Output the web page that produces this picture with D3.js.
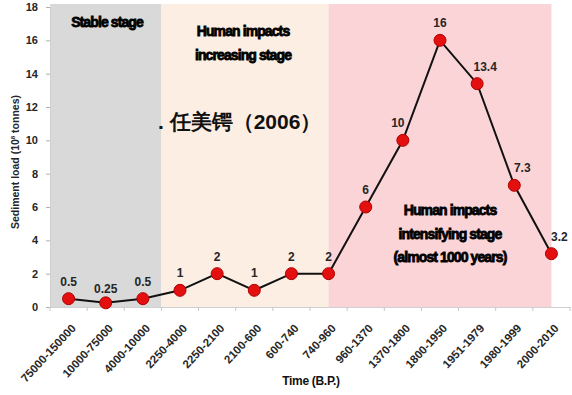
<!DOCTYPE html>
<html>
<head>
<meta charset="utf-8">
<script src="https://cdn.jsdelivr.net/npm/d3@7"></script>
<style>
  body { margin: 0; background: #fff; }
  svg text { font-family: "Liberation Sans Narrow", "Liberation Sans", Arial, sans-serif; }
</style>
</head>
<body>
<div id="chart"></div>
<script>
const periods = ["75000-150000", "10000-75000", "4000-10000", "2250-4000", "2250-2100", "2100-600",
  "600-740", "740-960", "960-1370", "1370-1800", "1800-1950", "1951-1979", "1980-1999", "2000-2010"];
const load = [0.5, 0.25, 0.5, 1, 2, 1, 2, 2, 6, 10, 16, 13.4, 7.3, 3.2];
const yTicks = [0, 2, 4, 6, 8, 10, 12, 14, 16, 18];
const stages = [
  { from: "75000-150000", to: "4000-10000", fill: "#d9d9d9", lines: ["Stable stage"] },
  { from: "2250-4000", to: "740-960", fill: "#fdeee4", lines: ["Human impacts", "increasing stage"] },
  { from: "740-960", to: "2000-2010", fill: "#fad4d7", lines: ["Human impacts", "intensifying stage", "(almost 1000 years)"] }
];

const W = 572, H = 395;
const MARGIN = { TOP: 7, BOTTOM: 88, LEFT: 50, RIGHT: 2 };
const w = W - MARGIN.LEFT - MARGIN.RIGHT;
const h = H - MARGIN.TOP - MARGIN.BOTTOM;
const TEXT_COLOR = "#262626";

const svg = d3.select("#chart").append("svg")
  .attr("width", W).attr("height", H)
  .append("g").attr("transform", `translate(${MARGIN.LEFT}, ${MARGIN.TOP})`);

const x = d3.scaleBand().domain(periods).range([0, w]);
const y = d3.scaleLinear().domain([0, 18]).range([h, 0]);
const cx = d => x(d) + x.bandwidth() / 2;

// stage backgrounds: first starts at axis, others start/end at category centres
const stageX0 = (s, i) => i === 0 ? 0 : (i === 1 ? x(s.from) : cx(s.from));
const stageX1 = (s, i) => i === 0 ? x(s.to) + x.bandwidth() : cx(s.to);
svg.selectAll("rect.stage").data(stages).join("rect")
  .attr("class", "stage")
  .attr("x", (s, i) => stageX0(s, i))
  .attr("width", (s, i) => stageX1(s, i) - stageX0(s, i))
  .attr("y", -3)
  .attr("height", h + 3)
  .attr("fill", s => s.fill);

// axes
const yAxis = svg.append("g").call(d3.axisLeft(y).tickValues(yTicks).tickSize(4).tickPadding(8));
yAxis.select(".domain").attr("stroke", "#d0d0d0");
yAxis.selectAll(".tick line").attr("stroke", "#b0b0b0");
yAxis.selectAll(".tick text").attr("fill", TEXT_COLOR).attr("font-size", 11).attr("font-weight", "bold")
  .attr("font-family", "'Open Sans', sans-serif");

const xAxis = svg.append("g").attr("transform", `translate(0, ${h})`)
  .call(d3.axisBottom(x).tickSize(0).tickPadding(0));
xAxis.select(".domain").attr("stroke", "#d0d0d0");
xAxis.selectAll(".tick line").remove();
// tick marks at category boundaries
svg.append("g").selectAll("line").data(periods.concat(["end"])).join("line")
  .attr("x1", (d, i) => i * x.bandwidth()).attr("x2", (d, i) => i * x.bandwidth())
  .attr("y1", h).attr("y2", h + 4).attr("stroke", "#c8c8c8");
xAxis.selectAll(".tick text")
  .attr("fill", TEXT_COLOR).attr("font-size", 11.5).attr("font-weight", "bold")
  .attr("text-anchor", "end")
  .attr("transform", "translate(5, 19) rotate(-47)")
  .attr("dy", "0.35em");

// axis titles
svg.append("text")
  .attr("transform", `translate(-31, ${h / 2 + 5}) rotate(-90)`)
  .attr("text-anchor", "middle").attr("font-size", 10.5).attr("font-weight", "bold")
  .attr("fill", TEXT_COLOR).attr("font-family", "'Open Sans', sans-serif")
  .html('Sediment load (10<tspan font-size="6" dy="-4">8</tspan><tspan dy="4"> tonnes)</tspan>');

svg.append("text")
  .attr("x", 261).attr("y", h + 78)
  .attr("text-anchor", "middle").attr("font-size", 12).attr("font-weight", "bold")
  .attr("letter-spacing", -0.3)
  .attr("fill", "#111").text("Time (B.P.)");

// stage titles
const stageTextY = [20, 29, 208];
const stageTextX = [57, 193, 400];
stages.forEach((s, i) => {
  svg.append("text")
    .attr("x", stageTextX[i]).attr("y", stageTextY[i])
    .attr("text-anchor", "middle").attr("font-size", 14).attr("font-weight", "bold")
    .attr("letter-spacing", -0.9).attr("fill", "#000")
    .style("paint-order", "stroke").attr("stroke", "#000").attr("stroke-width", 0.8)
    .selectAll("tspan").data(s.lines).join("tspan")
    .attr("x", stageTextX[i]).attr("dy", (d, j) => j === 0 ? 0 : 23.5)
    .text(d => d);
});

// citation
svg.append("text")
  .attr("x", 108).attr("y", 122)
  .attr("font-size", 21).attr("font-weight", "bold")
  .attr("font-family", "'Noto Sans CJK SC', sans-serif")
  .attr("fill", "#111")
  .text(". 任美锷（2006）");

// line and points
const data = periods.map((p, i) => ({ period: p, value: load[i], i }));
const peak = d3.maxIndex(load);
svg.append("path").datum(data)
  .attr("fill", "none").attr("stroke", "#111").attr("stroke-width", 2)
  .attr("d", d3.line().x(d => cx(d.period)).y(d => y(d.value)));

svg.selectAll("circle").data(data).join("circle")
  .attr("cx", d => cx(d.period)).attr("cy", d => y(d.value))
  .attr("r", 6).attr("fill", "#e41010").attr("stroke", "#b00000").attr("stroke-width", 1);

const labelDx = d => d.i > peak ? 8 : (d.i < peak && d.i > 8 ? -5 : 0);
svg.selectAll("text.val").data(data).join("text")
  .attr("class", "val")
  .attr("x", d => cx(d.period) + labelDx(d))
  .attr("y", d => y(d.value) - (d.value < 0.5 ? 10 : 13))
  .attr("text-anchor", "middle").attr("font-size", 12).attr("font-weight", "bold")
  .attr("fill", TEXT_COLOR)
  .text(d => d.value);
</script>
</body>
</html>
